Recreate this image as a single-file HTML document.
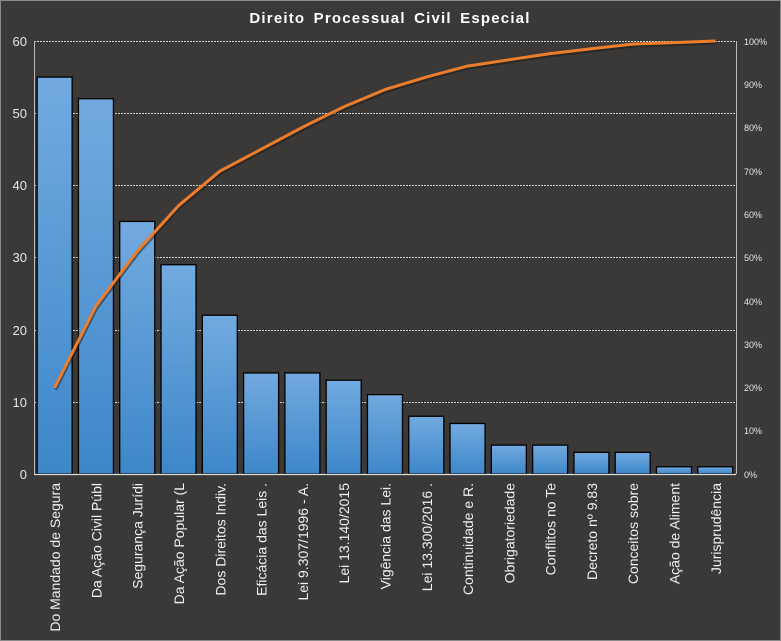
<!DOCTYPE html>
<html><head><meta charset="utf-8"><style>
body{margin:0;background:#3a3938;}
svg{display:block;font-family:"Liberation Sans","DejaVu Sans",sans-serif;}
</style></head><body>
<svg width="781" height="641" viewBox="0 0 781 641">
<defs>
<linearGradient id="g" x1="0" y1="0" x2="0" y2="1">
<stop offset="0" stop-color="#72aae0"/><stop offset="1" stop-color="#3d87c9"/>
</linearGradient>
</defs>
<rect x="0" y="0" width="781" height="641" fill="#3a3938" stroke="#8a8a8a" stroke-width="2"/>
<text x="390" y="23" fill="#fff" font-size="15" font-weight="bold" text-anchor="middle" letter-spacing="1.2" word-spacing="3">Direito Processual Civil Especial</text>
<g stroke="#cfcfcf" stroke-width="1" stroke-dasharray="2,1" fill="none">
<line x1="34" y1="41.5" x2="736" y2="41.5"/>
<line x1="34" y1="113.5" x2="736" y2="113.5"/>
<line x1="34" y1="185.5" x2="736" y2="185.5"/>
<line x1="34" y1="257.5" x2="736" y2="257.5"/>
<line x1="34" y1="330.5" x2="736" y2="330.5"/>
<line x1="34" y1="402.5" x2="736" y2="402.5"/>
</g>
<line x1="34.5" y1="41" x2="34.5" y2="474" stroke="#bbb"/>
<line x1="736.5" y1="41" x2="736.5" y2="474" stroke="#bbb"/>
<g fill="#e6e6e6" font-size="13" text-anchor="end">
<text x="27" y="46">60</text><text x="27" y="118">50</text><text x="27" y="190">40</text>
<text x="27" y="262">30</text><text x="27" y="335">20</text><text x="27" y="407">10</text><text x="27" y="479">0</text>
</g>
<g fill="#e6e6e6" font-size="9" text-anchor="start">
<text x="744" y="45">100%</text><text x="744" y="88">90%</text><text x="744" y="131">80%</text>
<text x="744" y="175">70%</text><text x="744" y="218">60%</text><text x="744" y="261">50%</text>
<text x="744" y="305">40%</text><text x="744" y="348">30%</text><text x="744" y="391">20%</text>
<text x="744" y="434">10%</text><text x="744" y="478">0%</text>
</g>
<g id="bars" fill="url(#g)" stroke="#000" stroke-width="1.3"></g>
<line x1="34" y1="474.5" x2="736" y2="474.5" stroke="#ddd" stroke-width="1.3"/>
<polyline id="shadow" fill="none" stroke="#1a1a1a" stroke-opacity="0.5" stroke-width="3" transform="translate(1,2)"/>
<polyline id="line" fill="none" stroke="#ee7d2b" stroke-width="3" stroke-linejoin="round"/>
<g id="labels" fill="#f0f0f0" font-size="14"></g>
</svg>
<script>
var v=[55,52,35,29,22,14,14,13,11,8,7,4,4,3,3,1,1];
var L=["Do Mandado de Segura","Da Ação Civil Públ","Segurança Jurídi","Da Ação Popular (L","Dos Direitos Indiv.","Eficácia das Leis .","Lei 9.307/1996 - A.","Lei 13.140/2015","Vigência das Lei.","Lei 13.300/2016  .","Continuidade e R.","Obrigatoriedade","Conflitos no Te","Decreto nº 9.83","Conceitos sobre","Ação de Aliment","Jurisprudência"];
var ns="http://www.w3.org/2000/svg",b=document.getElementById("bars"),lb=document.getElementById("labels");
var tot=276,c=0,pts=[];
for(var i=0;i<17;i++){
 var cx=34+41.29*(i+0.5),h=v[i]*433/60;
 var r=document.createElementNS(ns,"rect");
 r.setAttribute("x",cx-17.5);r.setAttribute("y",474-h);r.setAttribute("width",35);r.setAttribute("height",h);
 b.appendChild(r);
 c+=v[i];pts.push(cx.toFixed(1)+","+(474-c/tot*433).toFixed(1));
 var t=document.createElementNS(ns,"text");
 t.setAttribute("transform","translate("+(cx+5.5)+",483) rotate(-90)");
 t.setAttribute("text-anchor","end");t.textContent=L[i];lb.appendChild(t);
}
document.getElementById("line").setAttribute("points",pts.join(" "));
document.getElementById("shadow").setAttribute("points",pts.join(" "));
</script>
</body></html>
